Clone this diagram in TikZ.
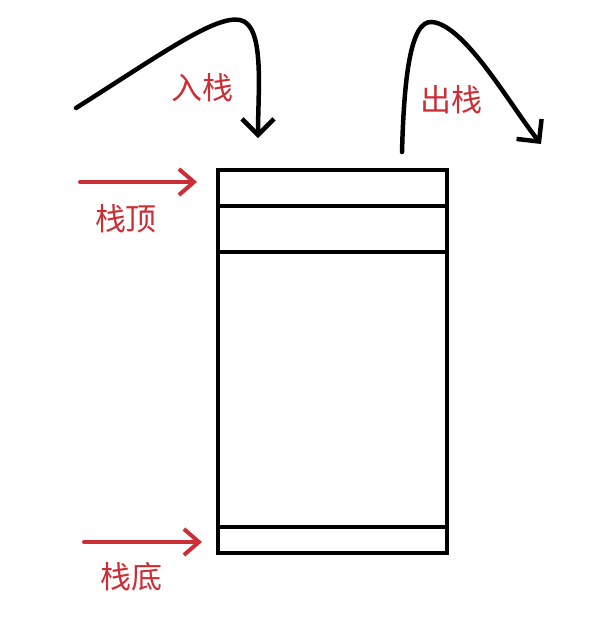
\documentclass[tikz,border=0pt]{standalone}
\usepackage{fontspec}
\setmainfont{Noto Sans CJK SC}
\usetikzlibrary{arrows.meta}
\definecolor{redlbl}{RGB}{204,46,54}
\begin{document}
\begin{tikzpicture}[x=1pt,y=-1pt,
  blk/.style={line width=4.5pt,black,line cap=round},
  redarr/.style={line width=4pt,redlbl,line cap=round,-{Straight Barb[length=15pt,width=26pt,line width=4pt]}},
  blkarr/.style={blk,-{Straight Barb[length=16pt,width=32pt,line width=4.5pt]}},
  lbl/.style={text=redlbl,font=\fontsize{31}{36}\selectfont,inner sep=0pt}]
\useasboundingbox[fill=white] (0,0) rectangle (594,625);
\node[draw,line width=4.5pt,minimum width=229pt,minimum height=383pt,inner sep=0pt,outer sep=0pt,anchor=north west] (stack) at (218,170) {};
\coordinate (l1) at (218,206); \coordinate (r1) at (447,206);
\coordinate (l2) at (218,252); \coordinate (r2) at (447,252);
\coordinate (l3) at (218,527); \coordinate (r3) at (447,527);
\draw[line width=4pt] (l1) -- (r1);
\draw[line width=4pt] (l2) -- (r2);
\draw[line width=4pt] (l3) -- (r3);
% red pointers
\coordinate (t0) at (80,182); \coordinate (t1) at (197,182);
\draw[redarr] (t0) -- (t1);
\node[lbl] (top) at (126,219) {栈顶};
\coordinate (b0) at (84,542); \coordinate (b1) at (202,542);
\draw[redarr] (b0) -- (b1);
\node[lbl] (bot) at (131,577) {栈底};
% push
\coordinate (p0) at (76,108); \coordinate (p1) at (258,138);
\draw[blkarr] (p0) .. controls (160,55) and (215,15) .. (240,20) .. controls (265,25) and (258,90) .. (p1);
\node[lbl] (push) at (202,88) {入栈};
% pop
\coordinate (q0) at (402,152); \coordinate (q1) at (541,144);
\draw[blkarr] (q0) .. controls (404,80) and (410,20) .. (432,22) .. controls (465,25) and (510,105) .. (q1);
\node[lbl] (pop) at (451,100) {出栈};
\end{tikzpicture}
\end{document}
